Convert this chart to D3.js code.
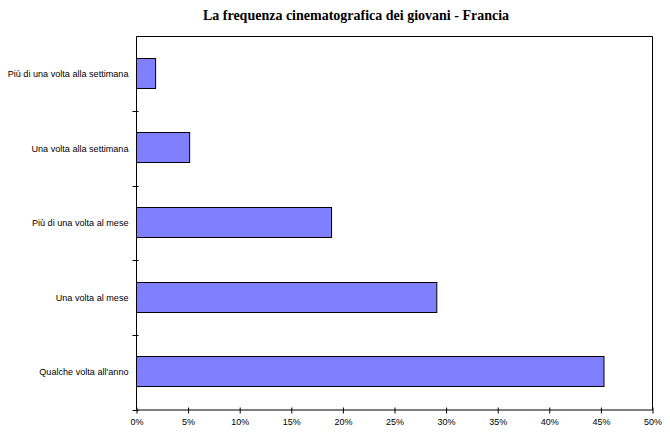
<!DOCTYPE html>
<html><head><meta charset="utf-8">
<script src="https://cdn.jsdelivr.net/npm/d3@7"></script>
<style>body{margin:0;background:#fff}svg{display:block}</style>
</head><body>
<script>
const categories = ["Più di una volta alla settimana","Una volta alla settimana","Più di una volta al mese","Una volta al mese","Qualche volta all'anno"];
const values = [1.85, 5.15, 18.9, 29.1, 45.3];
const xTicks = [0,5,10,15,20,25,30,35,40,45,50];
const title = "La frequenza cinematografica dei giovani - Francia";

const W = 670, H = 436;
const m = {left:136.5, right:652.5, top:36.5, bottom:409.5};
const svg = d3.select("body").append("svg").attr("width",W).attr("height",H);

const x = d3.scaleLinear().domain([0,50]).range([m.left, m.right]);
const y = d3.scaleBand().domain(categories).range([m.top, m.bottom]).paddingInner(0.6).paddingOuter(0.3);
const yb = d3.scaleBand().domain(categories).range([m.top, m.bottom]);

svg.append("text").attr("x",356).attr("y",20).attr("text-anchor","middle")
  .attr("font-family","Liberation Serif, Times New Roman, serif").attr("font-weight","bold")
  .attr("font-size","14px").text(title);

// frame
svg.append("path").attr("d",`M${m.left},${m.top}H${m.right}V${m.bottom}`).attr("fill","none").attr("stroke","#000");

// bars
svg.selectAll("rect.bar").data(values).join("rect")
  .attr("x", m.left).attr("y",(d,i)=>Math.round(y(categories[i]))-0.5)
  .attr("width", d=>x(d)-m.left).attr("height", Math.round(y.bandwidth()))
  .attr("fill","#8080FF").attr("stroke","#000");

// x axis
const xa = svg.append("g").attr("transform",`translate(0,${m.bottom})`)
  .call(d3.axisBottom(x).tickValues(xTicks).tickFormat(d=>d+"%").tickSize(4).tickSizeOuter(0));
xa.select(".domain").attr("stroke","#000");
xa.selectAll(".tick line").attr("y1",-2).attr("y2",4).attr("stroke","#000");
xa.selectAll(".tick text").attr("font-family","Liberation Sans, Arial, sans-serif").attr("font-size","9px").attr("dy","0.9em").attr("fill","#000");

// y axis
const ya = svg.append("g").attr("transform",`translate(${m.left},0)`);
ya.append("line").attr("x1",0).attr("x2",0).attr("y1",m.top).attr("y2",m.bottom).attr("stroke","#000");
const bounds = categories.slice(1).map(c=>yb(c));
bounds.push(m.bottom);
ya.selectAll("line.tk").data(bounds).join("line").attr("class","tk")
  .attr("x1",-4).attr("x2",2).attr("y1",d=>Math.round(d)+0.5).attr("y2",d=>Math.round(d)+0.5).attr("stroke","#000");
ya.selectAll("text").data(categories).join("text")
  .attr("x",-8).attr("y",d=>yb(d)+yb.bandwidth()/2).attr("dy","0.35em").attr("text-anchor","end")
  .attr("font-family","Liberation Sans, Arial, sans-serif").attr("font-size","9.1px").attr("fill","#000").text(d=>d);
</script>
</body></html>
